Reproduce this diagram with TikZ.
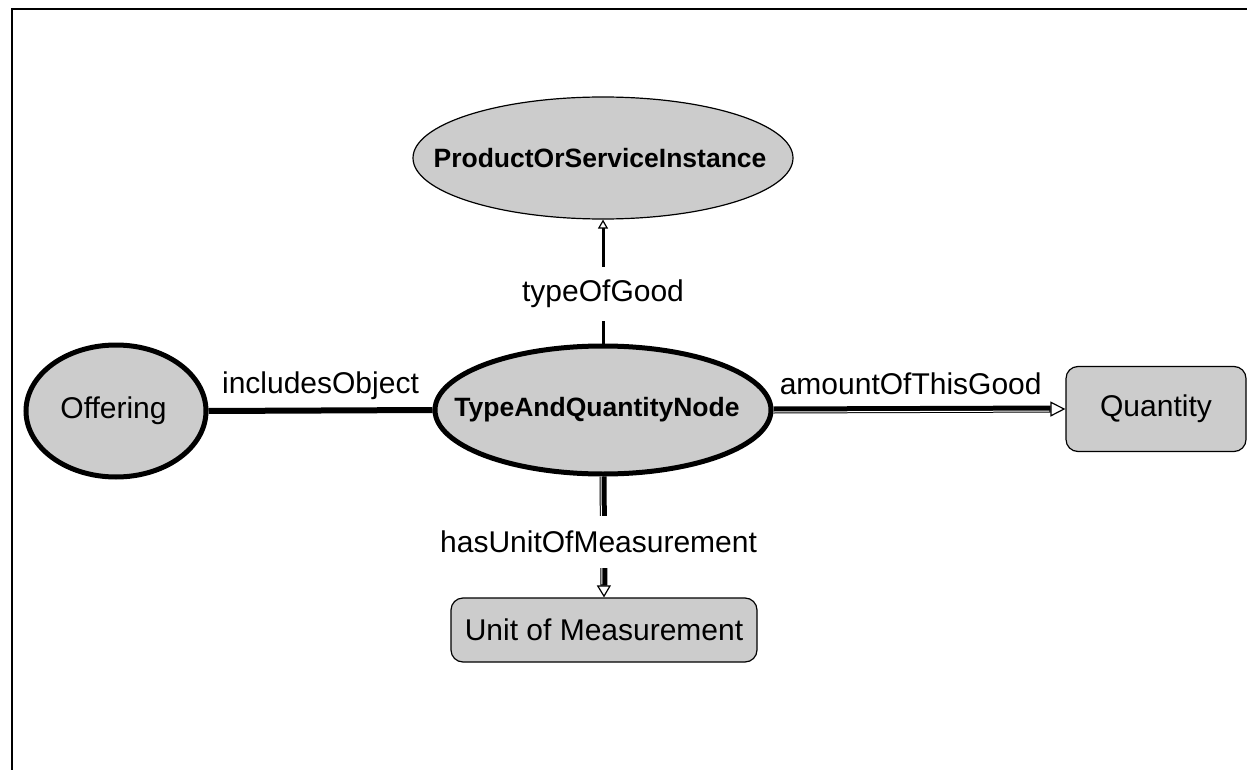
\documentclass[tikz,border=0pt]{standalone}
\usepackage{fontspec}
\setmainfont{Liberation Sans}
\usetikzlibrary{arrows.meta,shapes.geometric}
\definecolor{nodegray}{HTML}{CCCCCC}
\tikzset{
  lbl/.style={font=\fontsize{30}{35}\selectfont, inner sep=3.33pt},
  boldlbl/.style={font=\fontsize{26.5}{31}\selectfont\bfseries},
  thinell/.style={ellipse, draw, line width=1.2pt, fill=nodegray, boldlbl, inner sep=0pt},
  thickell/.style={ellipse, draw, line width=5pt, fill=nodegray, inner sep=0pt},
  roundbox/.style={rectangle, rounded corners=12pt, draw, line width=1.2pt, fill=nodegray, lbl},
  gaplbl/.style={lbl, fill=white, inner xsep=4pt},
  stripe/.style={white, line width=1pt},
}
% text set in a zero-width box so that the ellipse keeps its given size
\newcommand{\ctext}[1]{\makebox[0pt]{#1}}
\begin{document}
\begin{tikzpicture}[x=1pt, y=-1pt]
\useasboundingbox (0,0) rectangle (1247,770);

% frame
\draw[line width=2.5pt] (12,772) -- (12,9) -- (1249,9);

% nodes
\node[thinell, minimum width=380pt, minimum height=122pt] (psi) at (603,158) {\ctext{ProductOrServiceInstance\hspace{6pt}}};
\node[thickell, boldlbl, minimum width=336pt, minimum height=128pt] (taq) at (603,410) {\ctext{TypeAndQuantityNode\hspace{12pt}}};
\node[thickell, lbl, inner sep=0pt, minimum width=180pt, minimum height=132pt] (off) at (116,411) {\ctext{Offering\hspace{5pt}}};
\node[roundbox, minimum width=180pt, minimum height=85pt] (qty) at (1156,409) {Quantity};
\node[roundbox, minimum width=306pt, minimum height=64pt] (unit) at (604,630) {Unit of Measurement};

% typeOfGood
\draw[line width=3pt, -{Triangle[open, length=9pt, width=10pt, line width=1.2pt]}]
  (taq.north) -- (psi.south)
  node[gaplbl, pos=0.40, inner ysep=13pt] {typeOfGood};

% includesObject
\draw[line width=6pt] (off.east) -- (taq.west)
  node[lbl, midway, above=4.5pt] {includesObject};

% amountOfThisGood
\draw[line width=7pt, -{Triangle[open, length=15pt, width=15pt, line width=1.2pt]}]
  (taq.east) -- (qty.west);
\draw[stripe, shorten >=16pt] ([yshift=-2pt]taq.east) -- ([yshift=-2pt]qty.west);
\path (taq.east) -- (qty.west) node[lbl, pos=0.47, above=11pt] {amountOfThisGood};

% hasUnitOfMeasurement
\draw[line width=7pt, -{Triangle[open, length=12pt, width=14pt, line width=1.2pt]}]
  (taq.south) -- (unit.north);
\draw[stripe, shorten >=13pt] ([xshift=-2pt]taq.south) -- ([xshift=-2pt]unit.north);
\path (taq.south) -- (unit.north)
  node[gaplbl, pos=0.54, inner ysep=15pt, xshift=-5pt] {hasUnitOfMeasurement};
\end{tikzpicture}
\end{document}
